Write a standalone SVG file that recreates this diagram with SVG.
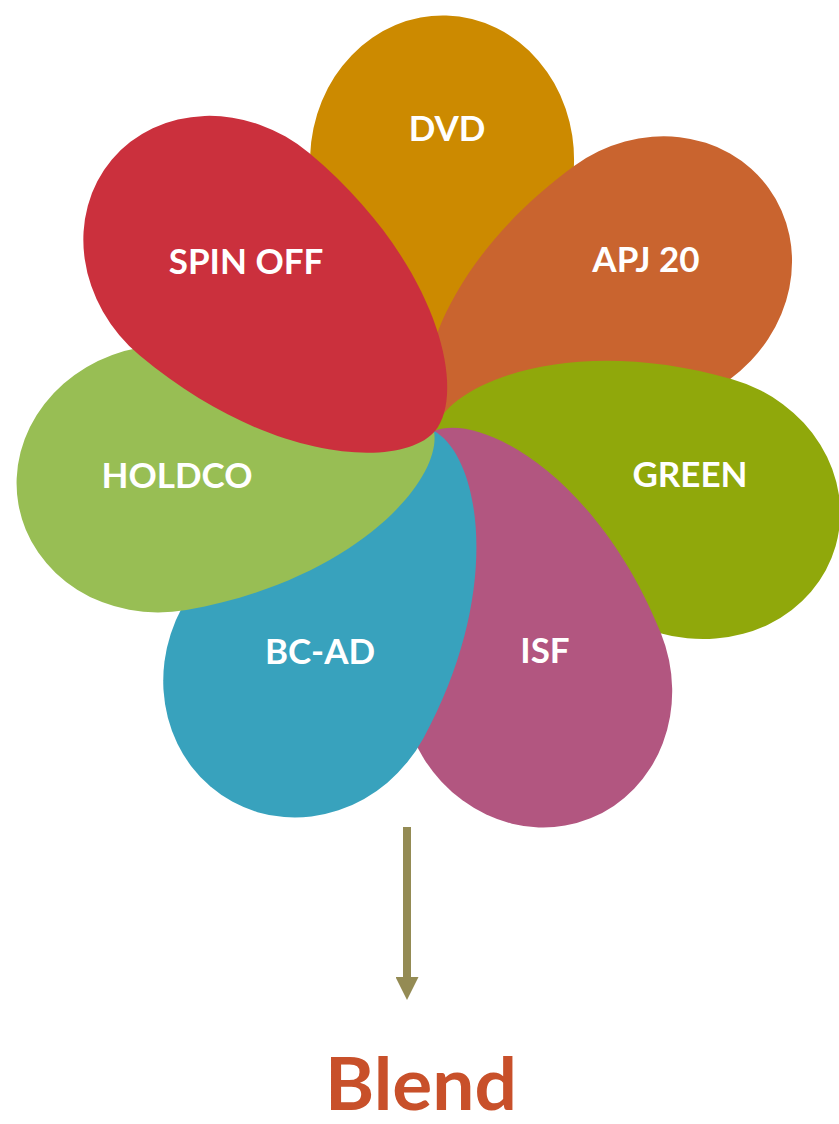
<svg xmlns="http://www.w3.org/2000/svg" width="839" height="1124" viewBox="0 0 839 1124">
  <defs>
    <path id="petal" d="M 0 0 C 0 -50 105 -132 275 -132 A 147 132 0 0 1 275 132 C 105 132 0 50 0 0 Z"/>
    <marker id="arrowhead" markerUnits="userSpaceOnUse" markerWidth="23" markerHeight="23" viewBox="0 0 23 23" refX="0" refY="11.5" orient="auto">
      <path d="M0,0 L23,11.5 L0,23 Z" fill="#948B54"/>
    </marker>
  </defs>
  <style>
    .lbl { font-family: Lato, "Open Sans", "Liberation Sans", sans-serif; font-weight: 700; font-size: 35px; fill: #FFFFFF; text-anchor: middle; }
    .title { font-family: Lato, "Open Sans", "Liberation Sans", sans-serif; font-weight: 700; font-size: 73px; fill: #C8502A; text-anchor: middle; }
    .conn { stroke: #948B54; stroke-width: 8; fill: none; }
  </style>
  <rect width="839" height="1124" fill="#FFFFFF"/>

  <g id="dvd">
    <use href="#petal" transform="translate(434,431) rotate(-88.3) scale(0.985,1)" fill="#CC8A00"/>
    <text class="lbl" x="447" y="141">DVD</text>
  </g>
  <g id="apj20">
    <use href="#petal" transform="translate(434,431) rotate(-36) scale(0.98,1)" fill="#C9642F"/>
    <text class="lbl" x="646" y="272">APJ 20</text>
  </g>
  <g id="green">
    <use href="#petal" transform="translate(434,431) rotate(16) scale(0.99,1)" fill="#90A80B"/>
    <text class="lbl" x="690" y="487">GREEN</text>
  </g>
  <g id="isf">
    <use href="#petal" transform="translate(434,431) rotate(68) scale(0.99,1.02)" fill="#B25680"/>
    <text class="lbl" x="545" y="663">ISF</text>
  </g>
  <g id="bcad">
    <use href="#petal" transform="translate(434,431) rotate(118.5) scale(1,1.04)" fill="#38A2BD"/>
    <text class="lbl" x="320" y="664">BC-AD</text>
  </g>
  <g id="holdco">
    <use href="#petal" transform="translate(434,431) rotate(170) scale(1,1.01)" fill="#98BE54"/>
    <text class="lbl" x="177" y="488">HOLDCO</text>
  </g>
  <g id="spinoff">
    <use href="#petal" transform="translate(435,431) rotate(220) scale(1,1)" fill="#CB303D"/>
    <text class="lbl" x="246" y="274">SPIN OFF</text>
  </g>

  <g id="connectors">
    <line class="conn" x1="407" y1="827" x2="407" y2="977" marker-end="url(#arrowhead)"/>
  </g>

  <g id="blend">
    <text class="title" x="421" y="1110" textLength="192" lengthAdjust="spacingAndGlyphs">Blend</text>
  </g>
</svg>
